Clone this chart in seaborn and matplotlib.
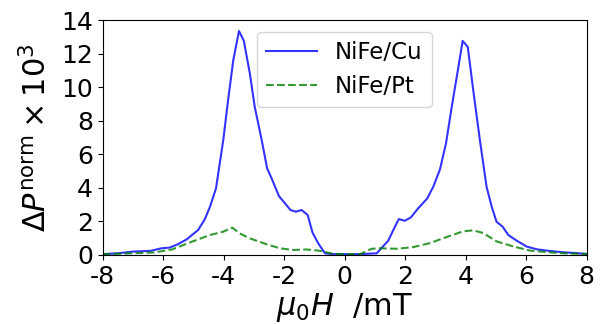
import matplotlib
matplotlib.use("Agg")
import matplotlib.pyplot as plt
import seaborn as sns
import numpy as np

# NiFe/Cu (blue, solid)
cu_x = [-8.0, -7.5, -7.0, -6.4, -6.05, -5.78, -5.5, -5.22, -4.84, -4.62, -4.45, -4.25,
        -4.01, -3.85, -3.68, -3.49, -3.33, -3.13, -2.97, -2.74, -2.56, -2.41, -2.17, -1.97,
        -1.79, -1.61, -1.42, -1.22, -1.06, -0.87, -0.65, -0.38, 0.0, 0.5, 1.06, 1.44,
        1.61, 1.79, 1.99, 2.19, 2.43, 2.73, 2.93, 3.15, 3.35, 3.54, 3.76, 3.90,
        4.07, 4.25, 4.47, 4.69, 4.86, 5.02, 5.22, 5.41, 5.69, 6.02, 6.35, 6.68,
        7.23, 7.6, 8.0]
cu_y = [0.05, 0.1, 0.2, 0.25, 0.4, 0.44, 0.65, 0.93, 1.49, 2.13, 2.87, 3.97,
        6.85, 9.23, 11.6, 13.35, 12.76, 10.8, 8.83, 6.85, 5.16, 4.56, 3.51, 3.08,
        2.68, 2.58, 2.68, 2.38, 1.33, 0.69, 0.1, 0.05, 0.05, 0.05, 0.1, 0.85,
        1.49, 2.14, 2.04, 2.24, 2.78, 3.37, 4.07, 5.10, 6.65, 8.83, 11.21, 12.76,
        12.4, 9.82, 6.85, 4.07, 2.88, 1.98, 1.69, 1.19, 0.85, 0.50, 0.34, 0.26,
        0.16, 0.12, 0.06]

# NiFe/Pt (green, dashed)
pt_x = [-8.0, -7.0, -6.3, -5.7, -5.05, -4.45, -4.01, -3.71, -3.47, -3.13, -2.58,
        -2.14, -1.70, -1.26, -0.82, -0.38, 0.0, 0.51, 0.89, 1.17, 1.72, 2.27,
        2.82, 3.37, 3.92, 4.25, 4.58, 5.02, 5.57, 6.13, 6.7, 7.23, 8.0]
pt_y = [0.05, 0.1, 0.15, 0.33, 0.79, 1.19, 1.39, 1.63, 1.29, 0.99, 0.64,
        0.40, 0.30, 0.33, 0.25, 0.07, 0.05, 0.05, 0.37, 0.40, 0.37, 0.47,
        0.71, 1.07, 1.41, 1.47, 1.31, 0.81, 0.51, 0.26, 0.17, 0.10, 0.06]

x_ticks = [-8, -6, -4, -2, 0, 2, 4, 6, 8]
y_ticks = [0, 2, 4, 6, 8, 10, 12, 14]

plt.rcParams['axes.unicode_minus'] = False

fig, ax = plt.subplots(figsize=(6.03, 3.24), dpi=100)
fig.subplots_adjust(left=0.170, right=0.973, top=0.938, bottom=0.213)

sns.lineplot(x=cu_x, y=cu_y, ax=ax, color='b', alpha=0.8, linewidth=1.5,
             estimator=None, sort=False, label='NiFe/Cu')
sns.lineplot(x=pt_x, y=pt_y, ax=ax, color='g', alpha=0.8, linewidth=1.5,
             linestyle='--', estimator=None, sort=False, label='NiFe/Pt')

ax.set_xlim(-8, 8)
ax.set_ylim(0, 14)
ax.set_xticks(x_ticks)
ax.set_yticks(y_ticks)
ax.tick_params(labelsize=18)
ax.set_xlabel(r'$\mu_0 H$  /mT', fontsize=22, labelpad=2)
ax.set_ylabel(r'$\Delta P^{\mathrm{norm}} \times 10^3$', fontsize=22, labelpad=6)
ax.legend(loc='upper center', fontsize=16.5, handlelength=2.2)

fig.savefig('out.png', dpi=100)
